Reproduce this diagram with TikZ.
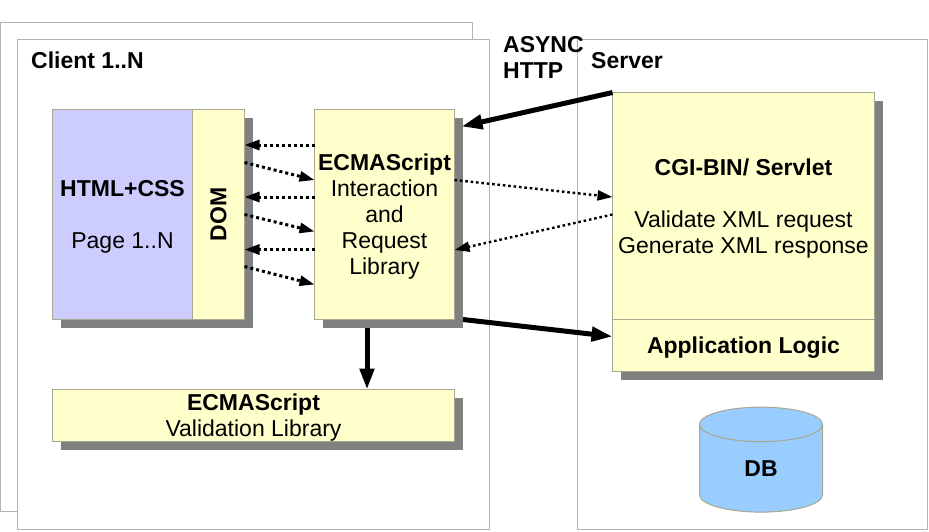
\documentclass[tikz,border=0pt]{standalone}
\usepackage{fontspec}
\setmainfont{Liberation Sans}
\usetikzlibrary{arrows.meta,shadows,shapes.geometric}
\definecolor{boxyellow}{HTML}{FFFFCC}
\definecolor{boxblue}{HTML}{CCCCFF}
\definecolor{dbblue}{HTML}{99CCFF}
\definecolor{shadowgray}{HTML}{808080}
\definecolor{framegray}{HTML}{B3B3B3}
\definecolor{edgegray}{HTML}{A8A890}
\newcommand{\firstline}{\rule{0pt}{21pt}}
\tikzset{
  txt/.style={font=\fontsize{23}{26}\selectfont,align=center,inner sep=0pt},
  frame/.style={draw=framegray,line width=1pt,fill=white,anchor=north west,inner sep=0pt,outer sep=0pt},
  box/.style={txt,draw=edgegray,line width=1pt,fill=boxyellow,anchor=north west,outer sep=0pt,
    general shadow={shadow xshift=8pt,shadow yshift=-8pt,fill=shadowgray}},
  heavy/.style={line width=5pt,-{Triangle[length=21pt,width=14pt]}},
  dots/.style={line width=3pt,dash pattern=on 3pt off 3pt,-{Triangle[length=15pt,width=10pt]}},
  thindots/.style={line width=2.4pt,dash pattern=on 2.6pt off 2.8pt,-{Triangle[length=15pt,width=10pt]}}
}
\begin{document}
\begin{tikzpicture}[x=1pt,y=-1pt]
\useasboundingbox (0,0) rectangle (929,531);
\node[frame,minimum width=472pt,minimum height=489pt] (back) at (0.5,22.5) {};
\node[frame,minimum width=472pt,minimum height=490pt] (client) at (17.5,39.5) {};
\node[frame,minimum width=350pt,minimum height=490pt] (server) at (577.5,39.5) {};
\node[txt,anchor=base west,font=\fontsize{23}{26}\selectfont\bfseries] (clientlabel) at (31,68) {Client 1..N};
\node[txt,anchor=base west,font=\fontsize{23}{26}\selectfont\bfseries] (serverlabel) at (591,68) {Server};
\node[txt,anchor=north west,align=left,font=\fontsize{23}{26}\selectfont\bfseries] (async) at (503,36) {ASYNC\\HTTP};
% client side
\node[box,fill=boxblue,minimum width=140pt,minimum height=210pt] (html) at (52.5,109.5) {\firstline\textbf{HTML+CSS}\\[26pt]Page 1..N};
\node[box,minimum width=52pt,minimum height=210pt] (dom) at (192.5,109.5) {};
\node[txt,rotate=90] (domlabel) at (dom.center) {\textbf{DOM}};
\node[box,minimum width=140pt,minimum height=210pt] (ecma) at (314.5,109.5) {\firstline\textbf{ECMAScript}\\Interaction\\and\\Request\\Library};
\node[box,minimum width=402pt,minimum height=52pt] (valid) at (52.5,389.5) {\firstline\textbf{ECMAScript}\\Validation Library};
% server side
\node[box,minimum width=262pt,minimum height=227pt] (cgi) at (612.5,92.5) {\firstline\textbf{CGI-BIN/ Servlet}\\[26pt]Validate XML request\\Generate XML response};
\node[box,minimum width=262pt,minimum height=52pt] (logic) at (612.5,319.5) {\firstline\textbf{Application Logic}};
\node[txt,draw=edgegray,line width=1pt,fill=dbblue,shape=cylinder,shape border rotate=90,aspect=1.04,
  minimum width=123pt,minimum height=105pt] (db) at (761,468.5) {\textbf{DB}};
% connectors
\foreach \y in {35.5,87.5,140}
  \draw[dots] ([yshift=-\y pt]ecma.north west) -- ([yshift=-\y pt]dom.north east);
\foreach \y/\z in {53/70.5,105/122,157/175}
  \draw[dots] ([yshift=-\y pt]dom.north east) -- ([yshift=-\z pt]ecma.north west);
\draw[thindots] ([yshift=-70.5pt]ecma.north east) -- ([yshift=-104.5pt]cgi.north west);
\draw[thindots] ([yshift=-122pt]cgi.north west) -- ([yshift=-140.5pt]ecma.north east);
\draw[heavy] (cgi.north west) -- ([xshift=7pt,yshift=-17pt]ecma.north east);
\draw[heavy] ([xshift=8.5pt]ecma.south east) -- ([yshift=-17pt]logic.north west);
\draw[heavy] ([xshift=52.5pt,yshift=-8pt]ecma.south west) -- ([xshift=314.5pt]valid.north west);
\end{tikzpicture}
\end{document}
